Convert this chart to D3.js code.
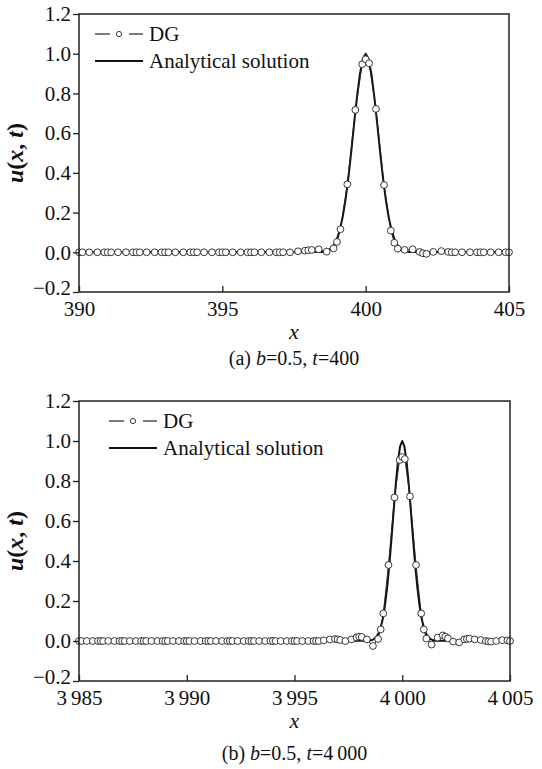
<!DOCTYPE html>
<html>
<head>
<meta charset="utf-8">
<script src="https://cdn.jsdelivr.net/npm/d3@7"></script>
<style>
  body { margin: 0; background: #fff; }
  svg { display: block; font-family: "Liberation Serif", "Times New Roman", serif; }
</style>
</head>
<body>
<div id="container"></div>
<script>
const width = 542;
const height = 769;

// shared y axis
const yTicks = [-0.2, 0, 0.2, 0.4, 0.6, 0.8, 1.0, 1.2];

// panel (a): b=0.5, t=400
const xTicksA = [390, 395, 400, 405];
const xTickLabelsA = ["390", "395", "400", "405"];
const dgXA = [
  390, 390.12, 390.36, 390.64, 390.88,
  391, 391.12, 391.36, 391.64, 391.88,
  392, 392.12, 392.36, 392.64, 392.88,
  393, 393.12, 393.36, 393.64, 393.88,
  394, 394.12, 394.36, 394.64, 394.88,
  395, 395.12, 395.36, 395.64, 395.88,
  396, 396.12, 396.36, 396.64, 396.88,
  397, 397.12, 397.36, 397.64, 397.88,
  398, 398.12, 398.36, 398.64, 398.88,
  399, 399.12, 399.36, 399.64, 399.88,
  400, 400.12, 400.36, 400.64, 400.88,
  401, 401.12, 401.36, 401.64, 401.88,
  402, 402.12, 402.36, 402.64, 402.88,
  403, 403.12, 403.36, 403.64, 403.88,
  404, 404.12, 404.36, 404.64, 404.88,
  405
];
const dgUA = [
  0, 0, 0, 0, 0,
  0, 0, 0, 0, 0,
  0, 0, 0, 0, 0,
  0, 0, 0, 0, 0,
  0, 0, 0, 0, 0,
  0, 0, 0, 0, 0,
  0, 0, 0, 0, 0,
  0, 0, 0, 0.005, 0.008,
  0.01, 0.012, 0.015, 0.003, 0.02,
  0.052, 0.116, 0.342, 0.717, 0.947,
  0.972, 0.952, 0.722, 0.339, 0.109,
  0.048, 0.018, 0.012, 0.015, 0.002,
  -0.005, -0.008, 0.002, 0.006, 0.002,
  0, 0, 0, 0, 0,
  0, 0, 0, 0, 0,
  0
];
const exactXA = [
  390, 398.4, 398.5, 398.6, 398.7, 398.8, 398.9, 399, 399.1, 399.2, 399.3, 399.4, 399.5,
  399.6, 399.7, 399.8, 399.9, 400, 400.1, 400.2, 400.3, 400.4, 400.5, 400.6, 400.7,
  400.8, 400.9, 401, 401.1, 401.2, 401.3, 401.4, 401.5, 401.6, 405
];
const exactUA = [
  0, 0.001, 0.002, 0.005, 0.011, 0.021, 0.039, 0.068, 0.113, 0.179, 0.268, 0.38, 0.511,
  0.651, 0.785, 0.898, 0.973, 1.0, 0.973, 0.898, 0.785, 0.651, 0.511, 0.38, 0.268,
  0.179, 0.113, 0.068, 0.039, 0.021, 0.011, 0.005, 0.002, 0.001, 0
];

// panel (b): b=0.5, t=4000
const xTicksB = [3985, 3990, 3995, 4000, 4005];
const xTickLabelsB = ["3\u2009985", "3\u2009990", "3\u2009995", "4\u2009000", "4\u2009005"];
const dgXB = [
  3985, 3985.12, 3985.36, 3985.64, 3985.88,
  3986, 3986.12, 3986.36, 3986.64, 3986.88,
  3987, 3987.12, 3987.36, 3987.64, 3987.88,
  3988, 3988.12, 3988.36, 3988.64, 3988.88,
  3989, 3989.12, 3989.36, 3989.64, 3989.88,
  3990, 3990.12, 3990.36, 3990.64, 3990.88,
  3991, 3991.12, 3991.36, 3991.64, 3991.88,
  3992, 3992.12, 3992.36, 3992.64, 3992.88,
  3993, 3993.12, 3993.36, 3993.64, 3993.88,
  3994, 3994.12, 3994.36, 3994.64, 3994.88,
  3995, 3995.12, 3995.36, 3995.64, 3995.88,
  3996, 3996.12, 3996.36, 3996.64, 3996.88,
  3997, 3997.12, 3997.36, 3997.64, 3997.88,
  3998, 3998.12, 3998.36, 3998.64, 3998.88,
  3999, 3999.12, 3999.36, 3999.64, 3999.88,
  4000, 4000.12, 4000.36, 4000.64, 4000.88,
  4001, 4001.12, 4001.36, 4001.64, 4001.88,
  4002, 4002.12, 4002.36, 4002.64, 4002.88,
  4003, 4003.12, 4003.36, 4003.64, 4003.88,
  4004, 4004.12, 4004.36, 4004.64, 4004.88,
  4005
];
const dgUB = [
  0, 0, 0, 0, 0,
  0, 0, 0, 0, 0,
  0, 0, 0, 0, 0,
  0, 0, 0, 0, 0,
  0, 0, 0, 0, 0,
  0, 0, 0, 0, 0,
  0, 0, 0, 0, 0,
  0, 0, 0, 0, 0,
  0, 0, 0, 0, 0,
  0, 0, 0, 0, 0,
  0, 0, 0, 0, 0,
  0, 0, 0.003, 0.008, 0.01,
  0.008, 0.005, 0, 0.008, 0.018,
  0.022, 0.02, 0.008, -0.025, 0.01,
  0.058, 0.138, 0.38, 0.718, 0.905,
  0.92, 0.91, 0.723, 0.38, 0.138,
  0.058, 0.012, -0.018, 0.017, 0.028,
  0.022, 0.013, -0.003, -0.007, 0.008,
  0.01, 0.012, 0.008, 0.005, 0,
  -0.002, -0.003, 0, 0.004, 0.003,
  0
];
const exactXB = [
  3985, 3998.4, 3998.5, 3998.6, 3998.7, 3998.8, 3998.9, 3999, 3999.1, 3999.2, 3999.3, 3999.4, 3999.5,
  3999.6, 3999.7, 3999.8, 3999.9, 4000, 4000.1, 4000.2, 4000.3, 4000.4, 4000.5, 4000.6, 4000.7,
  4000.8, 4000.9, 4001, 4001.1, 4001.2, 4001.3, 4001.4, 4001.5, 4001.6, 4005
];
const exactUB = [
  0, 0.001, 0.002, 0.005, 0.011, 0.021, 0.039, 0.068, 0.113, 0.179, 0.268, 0.38, 0.511,
  0.651, 0.785, 0.898, 0.973, 1.0, 0.973, 0.898, 0.785, 0.651, 0.511, 0.38, 0.268,
  0.179, 0.113, 0.068, 0.039, 0.021, 0.011, 0.005, 0.002, 0.001, 0
];

const svg = d3.create("svg")
  .attr("width", width)
  .attr("height", height)
  .attr("viewBox", [0, 0, width, height]);

function drawPanel(opt) {
  const { top, bottom, left, right, xDomain, xTicks, xLabels, dgX, dgU, exX, exU,
          legendX, caption, id } = opt;

  const x = d3.scaleLinear().domain(xDomain).range([left, right]);
  const y = d3.scaleLinear().domain([-0.2, 1.2]).range([bottom, top]);

  svg.append("clipPath").attr("id", id)
    .append("rect").attr("x", left).attr("y", top)
    .attr("width", right - left).attr("height", bottom - top);

  const line = d3.line().x(d => x(d[0])).y(d => y(d[1]));
  const plot = svg.append("g").attr("clip-path", `url(#${id})`);

  // analytical solution
  plot.append("path")
    .datum(exX.map((v, i) => [v, exU[i]]))
    .attr("fill", "none")
    .attr("stroke", "#111")
    .attr("stroke-width", 2)
    .attr("stroke-linejoin", "round")
    .attr("d", line);

  // DG
  const dg = dgX.map((v, i) => [v, dgU[i]]);
  plot.append("path")
    .datum(dg)
    .attr("fill", "none")
    .attr("stroke", "#222")
    .attr("stroke-width", 0.9)
    .attr("d", line);

  svg.append("g")
    .selectAll("circle")
    .data(dg)
    .join("circle")
      .attr("cx", d => x(d[0]))
      .attr("cy", d => y(d[1]))
      .attr("r", 3.4)
      .attr("fill", "#fff")
      .attr("stroke", "#222")
      .attr("stroke-width", 0.9);

  // frame
  svg.append("rect")
    .attr("x", left).attr("y", top)
    .attr("width", right - left).attr("height", bottom - top)
    .attr("fill", "none").attr("stroke", "#222").attr("stroke-width", 1.5);

  // x axis, ticks pointing inward
  svg.append("g")
    .attr("transform", `translate(0,${bottom})`)
    .call(d3.axisBottom(x).tickValues(xTicks).tickSize(-6).tickPadding(9)
      .tickFormat((d, i) => xLabels[i]))
    .call(g => g.select(".domain").remove())
    .call(g => g.selectAll("line").attr("stroke", "#222").attr("stroke-width", 1.3))
    .call(g => g.selectAll("text").attr("font-size", 21).attr("fill", "#111")
      .attr("font-family", "Liberation Serif"));

  // y axis, ticks outward
  svg.append("g")
    .attr("transform", `translate(${left},0)`)
    .call(d3.axisLeft(y).tickValues(yTicks).tickSize(6).tickPadding(2)
      .tickFormat(d3.format(".1f")))
    .call(g => g.select(".domain").remove())
    .call(g => g.selectAll("line").attr("stroke", "#222").attr("stroke-width", 1.3))
    .call(g => g.selectAll("text").attr("font-size", 21).attr("fill", "#111")
      .attr("font-family", "Liberation Serif"))
    .call(g => g.selectAll(".tick").filter(d => d === -0.2).select("text").attr("dy", "0.1em"));

  // y label
  const yl = svg.append("text")
    .attr("transform", `translate(23,${(top + bottom) / 2}) rotate(-90)`)
    .attr("text-anchor", "middle")
    .attr("font-size", 24)
    .attr("font-weight", "bold")
    .attr("fill", "#111");
  yl.append("tspan").attr("font-style", "italic").text("u");
  yl.append("tspan").text("(");
  yl.append("tspan").attr("font-style", "italic").text("x");
  yl.append("tspan").text(", ");
  yl.append("tspan").attr("font-style", "italic").text("t");
  yl.append("tspan").text(")");

  // x label
  svg.append("text")
    .attr("x", (left + right) / 2).attr("y", bottom + 47)
    .attr("text-anchor", "middle")
    .attr("font-size", 22).attr("font-style", "italic").attr("fill", "#111")
    .text("x");

  // caption
  const cap = svg.append("text")
    .attr("x", (left + right) / 2).attr("y", bottom + caption.dy)
    .attr("text-anchor", "middle")
    .attr("font-size", 20).attr("fill", "#111");
  cap.append("tspan").text(caption.pre);
  cap.append("tspan").attr("font-style", "italic").text("b");
  cap.append("tspan").text("=0.5, ");
  cap.append("tspan").attr("font-style", "italic").text("t");
  cap.append("tspan").text(caption.t);

  // legend
  const lg = svg.append("g").attr("fill", "#111");
  const y1 = top + 20, y2 = top + 47;
  lg.append("line").attr("x1", legendX).attr("x2", legendX + 15)
    .attr("y1", y1).attr("y2", y1).attr("stroke", "#222").attr("stroke-width", 1.2);
  lg.append("line").attr("x1", legendX + 34).attr("x2", legendX + 48)
    .attr("y1", y1).attr("y2", y1).attr("stroke", "#222").attr("stroke-width", 1.2);
  lg.append("circle").attr("cx", legendX + 24).attr("cy", y1).attr("r", 2.6)
    .attr("fill", "#fff").attr("stroke", "#222").attr("stroke-width", 0.9);
  lg.append("text").attr("x", legendX + 54).attr("y", y1 + 7)
    .attr("font-size", 21).text("DG");
  lg.append("line").attr("x1", legendX).attr("x2", legendX + 48)
    .attr("y1", y2).attr("y2", y2).attr("stroke", "#111").attr("stroke-width", 1.8);
  lg.append("text").attr("x", legendX + 54).attr("y", y2 + 7)
    .attr("font-size", 21).text("Analytical solution");
}

drawPanel({
  id: "clipA", top: 14, bottom: 292, left: 79, right: 509,
  xDomain: [390, 405], xTicks: xTicksA, xLabels: xTickLabelsA,
  dgX: dgXA, dgU: dgUA, exX: exactXA, exU: exactUA,
  legendX: 95, caption: { pre: "(a) ", t: "=400", dy: 73 }
});

drawPanel({
  id: "clipB", top: 401, bottom: 681, left: 79, right: 510,
  xDomain: [3985, 4005], xTicks: xTicksB, xLabels: xTickLabelsB,
  dgX: dgXB, dgU: dgUB, exX: exactXB, exU: exactUB,
  legendX: 109, caption: { pre: "(b) ", t: "=4\u2009000", dy: 79 }
});

document.getElementById("container").appendChild(svg.node());
</script>
</body>
</html>
